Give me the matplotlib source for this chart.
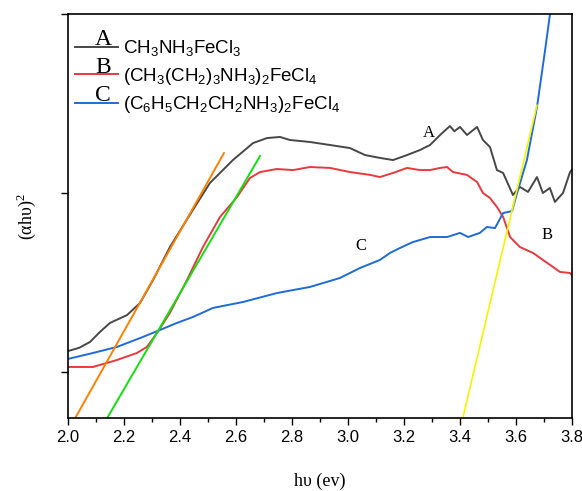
import numpy as np
import matplotlib
matplotlib.use("Agg")
import matplotlib.pyplot as plt

# photon energy (eV) / (alpha h nu)^2 (arbitrary units)
xa = [2.000, 2.040, 2.079, 2.115, 2.150, 2.211, 2.257, 2.304, 2.364, 2.446, 2.507, 2.589,
      2.661, 2.711, 2.757, 2.793, 2.864, 2.936, 3.007, 3.061, 3.114, 3.161,
      3.211, 3.257, 3.293, 3.329, 3.364, 3.380, 3.400, 3.425, 3.461, 3.482, 3.507,
      3.532, 3.554, 3.589, 3.614, 3.643, 3.675, 3.696, 3.721, 3.739, 3.768, 3.793, 3.800]
ya = [1.117, 1.135, 1.168, 1.225, 1.274, 1.318, 1.385, 1.514, 1.698, 1.905, 2.056, 2.184,
      2.279, 2.307, 2.313, 2.296, 2.285, 2.268, 2.251, 2.212, 2.196, 2.184,
      2.212, 2.240, 2.268, 2.324, 2.374, 2.345, 2.369, 2.324, 2.369, 2.296, 2.257,
      2.128, 2.112, 1.989, 2.034, 2.006, 2.089, 2.000, 2.028, 1.950, 2.000, 2.117, 2.130]

xb = [2.000, 2.089, 2.175, 2.246, 2.282, 2.318, 2.364, 2.425, 2.482, 2.543,
      2.604, 2.650, 2.686, 2.746, 2.804, 2.864, 2.936, 3.007, 3.079, 3.114,
      3.161, 3.211, 3.257, 3.293, 3.329, 3.354, 3.375, 3.425, 3.461, 3.482,
      3.507, 3.532, 3.554, 3.579, 3.614, 3.661, 3.696, 3.732, 3.757, 3.793, 3.800]
yb = [1.028, 1.028, 1.067, 1.106, 1.140, 1.218, 1.330, 1.514, 1.698, 1.866,
      1.978, 2.084, 2.117, 2.134, 2.128, 2.145, 2.140, 2.117, 2.101, 2.089,
      2.112, 2.140, 2.128, 2.128, 2.140, 2.145, 2.117, 2.101, 2.061, 2.000,
      1.972, 1.922, 1.866, 1.754, 1.698, 1.665, 1.626, 1.587, 1.559, 1.553, 1.540]

xc = [2.000, 2.089, 2.175, 2.268, 2.329, 2.389, 2.446, 2.518, 2.625, 2.746,
      2.864, 2.971, 3.043, 3.114, 3.150, 3.186, 3.232, 3.293, 3.354, 3.400,
      3.429, 3.471, 3.496, 3.525, 3.554, 3.586, 3.604, 3.639, 3.675, 3.704, 3.721, 3.739]
yc = [1.073, 1.106, 1.140, 1.196, 1.235, 1.274, 1.307, 1.358, 1.391, 1.441,
      1.475, 1.525, 1.581, 1.626, 1.665, 1.693, 1.726, 1.754, 1.754, 1.777,
      1.754, 1.777, 1.810, 1.804, 1.888, 1.899, 2.000, 2.184, 2.480, 2.799, 2.994, 3.190]

# tangent (Tauc) lines: start / end points
fit_orange = ([2.026, 2.557], [0.743, 2.223])
fit_green = ([2.140, 2.686], [0.743, 2.207])
fit_yellow = ([3.410, 3.675], [0.743, 2.490])

labels = [r"CH$_3$NH$_3$FeCl$_3$",
          r"(CH$_3$(CH$_2$)$_3$NH$_3$)$_2$FeCl$_4$",
          r"(C$_6$H$_5$CH$_2$CH$_2$NH$_3$)$_2$FeCl$_4$"]

c_a, c_b, c_c = "#474747", "#e8393d", "#1f6bd9"
serif = ["Liberation Serif", "DejaVu Serif"]
sans = ["Liberation Sans", "DejaVu Sans"]
plt.rcParams["font.family"] = sans
plt.rcParams["mathtext.fontset"] = "custom"
plt.rcParams["mathtext.rm"] = "Liberation Sans"
plt.rcParams["mathtext.it"] = "Liberation Sans"

fig = plt.figure(figsize=(5.82, 4.91), dpi=100)
ax = fig.add_axes([0.1168, 0.1487, 0.866, 0.8228])

la, = ax.plot(xa, ya, color=c_a, lw=1.4, label=labels[0])
lb, = ax.plot(xb, yb, color=c_b, lw=1.4, label=labels[1])
lc, = ax.plot(xc, yc, color=c_c, lw=1.4, label=labels[2])
ax.plot(*fit_orange, color="#ff8000", lw=1.4)
ax.plot(*fit_green, color="#11e011", lw=1.4)
ax.plot(*fit_yellow, color="#f4f400", lw=1.2)

ax.set_xlim(2.0, 3.8)
ax.set_ylim(0.743, 3.0)
ax.set_xticks(np.arange(2.0, 3.81, 0.2))
ax.set_xticks(np.arange(2.1, 3.8, 0.2), minor=True)
ax.set_xticklabels(["%.1f" % v for v in np.arange(2.0, 3.81, 0.2)])
ax.set_yticks([1, 2, 3])
ax.set_yticklabels([])
ax.tick_params(axis="both", which="major", direction="out", length=5, width=1, labelsize=12)
ax.tick_params(axis="x", which="minor", direction="out", length=3, width=1)
for s in ax.spines.values():
    s.set_linewidth(1.2)

ax.set_xlabel("h\u03c5 (ev)", family=serif, fontsize=13)
ax.xaxis.set_label_coords(0.5, -0.135)
ax.set_ylabel("(\u03b1h\u03c5)$^\\mathregular{2}$", family=serif, fontsize=13)
ax.yaxis.set_label_coords(-0.06, 0.5)

leg = ax.legend(handles=[la, lb, lc], loc="upper left", bbox_to_anchor=(0.014, 0.94),
                frameon=False, fontsize=13.5, handlelength=2.3, handletextpad=0.27,
                labelspacing=0.4, borderaxespad=0.0, borderpad=0.0)

for i, t in enumerate(["A", "B", "C"]):
    ax.text(0.07, 0.937 - i * 0.069, t, transform=ax.transAxes, family=serif,
            fontsize=17, ha="center", va="center")

ax.text(3.29, 2.335, "A", family=serif, fontsize=12, ha="center", va="center")
ax.text(3.045, 1.705, "C", family=serif, fontsize=12, ha="center", va="center")
ax.text(3.71, 1.765, "B", family=serif, fontsize=12, ha="center", va="center")

fig.savefig("out.png", dpi=100)
